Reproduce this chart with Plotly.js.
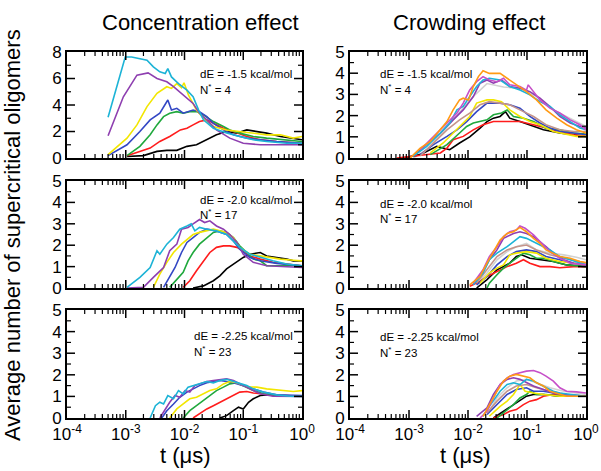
<!DOCTYPE html>
<html>
<head>
<meta charset="utf-8">
<script src="https://cdn.plot.ly/plotly-3.0.1.min.js"></script>
<style>html,body{margin:0;padding:0;background:#fff}#chart{width:601px;height:471px}</style>
</head>
<body>
<div id="chart"></div>
<script>
// ---------- DATA: [t (µs), average number of supercritical oligomers] ----------
// Concentration effect, dE = -1.5 kcal/mol
const A_black  = [[1.05e-3,0.12],[2.0e-3,0.18],[3.4e-3,0.5],[5.0e-3,0.58],[7.4e-3,0.58],[1.1e-2,0.88],[1.6e-2,1.0],[2.4e-2,1.38],[3.5e-2,1.75],[5.2e-2,2.0],[7.8e-2,1.88],[0.115,2.12],[0.17,2.0],[0.25,1.88],[0.43,1.62],[0.71,1.5],[1,1.38]];
const A_red    = [[1.05e-3,0.18],[1.74e-3,0.5],[2.6e-3,0.75],[3.8e-3,1.25],[5.6e-3,1.62],[8.5e-3,2.12],[1.1e-2,2.25],[1.4e-2,2.5],[1.8e-2,2.75],[2.4e-2,2.88],[3.1e-2,2.62],[4.6e-2,2.25],[6.8e-2,2.0],[0.115,1.62],[0.195,1.38],[0.37,1.25],[1,1.12]];
const A_green  = [[1.05e-3,0.18],[1.74e-3,0.88],[2.6e-3,1.75],[3.4e-3,2.5],[4.4e-3,3.12],[5.6e-3,3.38],[7.4e-3,3.5],[9.5e-3,3.38],[1.23e-2,3.5],[1.6e-2,3.5],[2.1e-2,3.25],[3.1e-2,2.75],[4.6e-2,2.38],[5.9e-2,2.12],[8.7e-2,1.88],[0.148,1.62],[0.25,1.5],[0.55,1.38],[1,1.25]];
const A_blue   = [[5.0e-4,0.18],[1.05e-3,1.0],[1.74e-3,2.0],[2.6e-3,2.88],[3.8e-3,3.38],[4.7e-3,4.12],[5.2e-3,4.38],[6.0e-3,3.62],[7.4e-3,3.75],[9.5e-3,3.38],[1.4e-2,3.62],[1.8e-2,3.5],[2.4e-2,3.12],[3.1e-2,2.62],[4.6e-2,2.12],[6.8e-2,1.75],[0.115,1.5],[0.195,1.38],[0.37,1.25],[1,1.12]];
const A_yellow = [[5.0e-4,0.25],[1.05e-3,1.5],[1.55e-3,2.5],[2.3e-3,3.88],[3.4e-3,4.88],[5.0e-3,5.38],[6.0e-3,5.25],[7.4e-3,5.62],[8.9e-3,5.3],[9.8e-3,5.68],[1.17e-2,4.75],[1.3e-2,4.38],[1.6e-2,3.62],[2.1e-2,3.0],[3.1e-2,2.38],[5.2e-2,2.12],[8.7e-2,2.0],[0.148,1.88],[0.25,1.75],[0.43,1.75],[0.71,1.5],[1,1.62]];
const A_violet = [[5.0e-4,1.68],[9.1e-4,4.62],[1.55e-3,6.25],[2.4e-3,6.42],[3.4e-3,6.0],[5.0e-3,5.75],[6.5e-3,5.38],[9.5e-3,4.75],[1.4e-2,4.12],[1.8e-2,3.38],[2.4e-2,2.88],[3.5e-2,2.12],[5.9e-2,1.5],[0.1,1.12],[0.195,1.0],[1,1.0]];
const A_cyan   = [[5.0e-4,3.08],[7.1e-4,5.38],[9.8e-4,7.62],[1.26e-3,7.62],[1.74e-3,7.5],[2.3e-3,7.38],[2.95e-3,6.88],[3.8e-3,6.5],[4.7e-3,6.38],[5.2e-3,6.75],[6.0e-3,6.12],[7.9e-3,5.62],[1.1e-2,5.12],[1.4e-2,4.62],[1.74e-2,3.62],[2.1e-2,2.88],[3.1e-2,2.25],[5.2e-2,1.88],[8.7e-2,1.62],[0.148,1.38],[0.25,1.25],[0.55,1.12],[1,1.12]];

// Crowding effect, dE = -1.5 kcal/mol
const B_black   = [[7.9e-4,0],[1.55e-3,0.16],[2.95e-3,0.55],[4.9e-3,0.39],[7.2e-3,0.71],[1.07e-2,1.0],[1.6e-2,1.41],[2.1e-2,1.72],[2.7e-2,1.88],[3.5e-2,1.96],[4.3e-2,2.19],[5.1e-2,1.88],[7.6e-2,1.72],[0.112,1.57],[0.19,1.33],[0.36,1.18],[0.62,1.1],[1,1.02]];
const B_red     = [[6.2e-4,0],[1.17e-3,0.08],[2.3e-3,0.16],[3.4e-3,0.24],[4.4e-3,0.47],[5.6e-3,0.86],[8.3e-3,1.02],[1.23e-2,1.33],[1.8e-2,1.57],[2.7e-2,1.72],[4.6e-2,1.72],[7.6e-2,1.72],[0.129,1.57],[0.21,1.41],[0.36,1.25],[0.62,1.1],[1,1.02]];
const B_green   = [[2.3e-3,0.16],[4.4e-3,0.63],[7.2e-3,1.18],[9.5e-3,1.49],[1.23e-2,1.65],[1.6e-2,1.72],[2.1e-2,1.8],[2.7e-2,2.04],[3.7e-2,2.12],[4.6e-2,2.27],[5.9e-2,1.96],[8.7e-2,1.88],[0.129,1.72],[0.21,1.41],[0.36,1.33],[0.62,1.18],[1,1.13]];
const B_blue    = [[1.55e-3,0.16],[2.6e-3,0.63],[4.4e-3,1.02],[6.5e-3,1.33],[9.5e-3,1.72],[1.4e-2,2.19],[2.1e-2,2.59],[3.5e-2,2.59],[5.1e-2,2.51],[7.6e-2,2.35],[0.112,1.96],[0.166,1.65],[0.245,1.41],[0.36,1.25],[0.62,1.18],[1,1.1]];
const B_yellow  = [[2.3e-3,0.24],[3.8e-3,0.71],[5.6e-3,1.18],[8.3e-3,1.65],[1.07e-2,1.96],[1.4e-2,2.59],[2.1e-2,2.74],[2.7e-2,2.74],[3.7e-2,2.66],[5.1e-2,2.27],[7.6e-2,1.96],[0.112,1.72],[0.166,1.57],[0.28,1.25],[0.47,1.1],[0.69,1.02],[1,1.02]];
const B_brown   = [[1.55e-3,0.1],[2.3e-3,0.55],[4.4e-3,1.33],[7.2e-3,1.8],[1.07e-2,2.12],[1.6e-2,2.51],[2.3e-2,2.66],[3.5e-2,2.59],[5.1e-2,2.51],[7.6e-2,2.27],[0.129,1.96],[0.21,1.57],[0.36,1.33],[0.62,1.25],[1,1.25]];
const B_grey    = [[1.17e-3,0],[2.0e-3,0.39],[5.6e-3,1.8],[1.23e-2,2.9],[2.1e-2,3.51],[4.0e-2,3.35],[7.6e-2,3.29],[0.145,2.9],[0.28,2.27],[0.54,1.88],[1,1.49]];
const B_violet  = [[1.17e-3,0.1],[2.0e-3,0.63],[3.4e-3,1.18],[5.6e-3,1.8],[8.3e-3,2.27],[1.23e-2,2.9],[1.6e-2,3.53],[2.1e-2,3.68],[2.7e-2,3.53],[3.7e-2,3.68],[5.1e-2,3.37],[7.6e-2,3.29],[0.112,3.13],[0.166,2.82],[0.245,2.43],[0.36,1.96],[0.54,1.65],[0.79,1.49],[1,1.41]];
const B_cyan    = [[1.17e-3,0.08],[2.0e-3,0.55],[3.4e-3,1.18],[4.9e-3,1.65],[6.5e-3,2.27],[8.3e-3,2.43],[1.07e-2,2.9],[1.4e-2,3.37],[1.8e-2,3.68],[2.3e-2,3.76],[3.5e-2,3.68],[5.1e-2,3.37],[7.6e-2,3.21],[0.112,2.98],[0.166,2.66],[0.245,2.43],[0.36,2.04],[0.54,1.72],[0.79,1.41],[1,1.33]];
const B_magenta = [[1.55e-3,0.39],[2.6e-3,1.02],[4.4e-3,1.65],[6.5e-3,2.12],[8.3e-3,2.59],[1.07e-2,3.21],[1.4e-2,3.6],[1.8e-2,3.84],[2.3e-2,3.68],[3.1e-2,3.6],[4.0e-2,3.76],[5.1e-2,3.45],[7.6e-2,3.37],[0.098,3.2],[0.105,3.45],[0.166,2.74],[0.245,2.35],[0.36,2.12],[0.54,1.8],[0.79,1.57],[1,1.33]];
const B_orange  = [[1.04e-3,0],[1.55e-3,0.47],[2.3e-3,0.78],[3.4e-3,1.33],[4.4e-3,1.72],[5.6e-3,2.27],[7.2e-3,2.74],[8.3e-3,2.82],[1.02e-2,2.74],[1.23e-2,3.37],[1.5e-2,3.84],[1.8e-2,4.12],[2.3e-2,3.99],[3.5e-2,3.99],[4.6e-2,3.76],[6.6e-2,3.45],[9.8e-2,3.13],[0.145,2.74],[0.21,2.27],[0.32,1.88],[0.47,1.57],[0.69,1.33],[1,1.18]];

// Concentration effect, dE = -2.0 kcal/mol
const C_black  = [[1.4e-2,0],[2.1e-2,0.1],[3.1e-2,0.34],[4.0e-2,0.57],[5.2e-2,0.89],[7.8e-2,1.2],[0.1,1.43],[0.13,1.58],[0.195,1.66],[0.25,1.5],[0.37,1.43],[0.55,1.35],[0.71,1.27],[1,1.27]];
const C_red    = [[9.5e-3,0.03],[1.23e-2,0.34],[1.6e-2,0.81],[2.1e-2,1.27],[2.7e-2,1.66],[3.5e-2,1.9],[4.6e-2,1.97],[5.9e-2,1.97],[7.8e-2,1.9],[0.1,1.74],[0.13,1.5],[0.195,1.35],[0.32,1.2],[0.55,1.12],[1,1.04]];
const C_green  = [[5.6e-3,0.03],[7.4e-3,0.42],[9.5e-3,0.73],[1.15e-2,1.27],[1.4e-2,1.66],[1.8e-2,2.05],[2.4e-2,2.36],[3.1e-2,2.6],[4.0e-2,2.67],[5.2e-2,2.6],[6.8e-2,2.36],[8.7e-2,1.97],[0.115,1.66],[0.148,1.35],[0.195,1.27],[0.25,1.04],[0.55,1.04],[1,1.04]];
const C_blue   = [[4.4e-3,0.03],[5.6e-3,0.5],[6.9e-3,0.96],[8.9e-3,1.66],[1.1e-2,2.13],[1.4e-2,2.36],[1.8e-2,2.6],[2.4e-2,2.75],[3.5e-2,2.67],[5.2e-2,2.5],[6.8e-2,2.2],[8.7e-2,1.82],[0.13,1.43],[0.195,1.27],[0.37,1.15],[1,1.04]];
const C_yellow = [[2.95e-3,0.03],[3.8e-3,0.65],[5.0e-3,1.2],[6.5e-3,1.66],[8.9e-3,2.05],[1.1e-2,2.28],[1.4e-2,2.5],[1.8e-2,2.6],[2.4e-2,2.67],[3.1e-2,2.75],[4.0e-2,2.67],[5.2e-2,2.6],[6.8e-2,2.36],[8.7e-2,1.9],[0.13,1.58],[0.195,1.5],[0.29,1.43],[0.43,1.35],[0.71,1.3],[1,1.27]];
const C_violet = [[1.05e-3,0],[2.0e-3,0.03],[2.95e-3,0.5],[4.4e-3,0.96],[5.6e-3,1.74],[7.4e-3,2.05],[8.9e-3,2.75],[1.15e-2,2.83],[1.4e-2,3.0],[1.8e-2,3.2],[2.2e-2,3.06],[2.7e-2,3.14],[3.5e-2,2.9],[4.6e-2,2.75],[5.9e-2,2.5],[7.8e-2,2.13],[0.1,1.58],[0.148,1.2],[0.25,1.04],[1,0.96]];
const C_cyan   = [[1.05e-3,0.03],[1.74e-3,0.5],[2.6e-3,0.96],[3.4e-3,1.74],[3.8e-3,1.58],[5.0e-3,2.05],[6.5e-3,2.36],[8.3e-3,2.75],[1.1e-2,2.9],[1.3e-2,3.0],[1.5e-2,2.67],[1.8e-2,2.83],[2.4e-2,2.75],[3.5e-2,2.67],[5.2e-2,2.5],[6.8e-2,2.2],[8.7e-2,1.9],[0.13,1.58],[0.195,1.43],[0.32,1.27],[0.55,1.12],[1,1.04]];

// Crowding effect, dE = -2.0 kcal/mol
const D_black   = [[1.4e-2,0],[2.1e-2,0.39],[3.1e-2,0.85],[4.0e-2,1.0],[5.1e-2,1.16],[6.6e-2,1.47],[8.1e-2,1.55],[0.112,1.39],[0.166,1.32],[0.28,1.24],[0.47,1.08],[1,1.0]];
const D_red     = [[1.07e-2,0.08],[1.6e-2,0.31],[2.1e-2,0.54],[3.1e-2,0.77],[4.6e-2,1.0],[6.6e-2,1.16],[8.7e-2,1.32],[0.112,1.16],[0.166,1.0],[0.245,1.0],[0.36,0.95],[0.62,1.0],[1,1.0]];
const D_green   = [[2.1e-2,0],[2.3e-2,0.23],[3.1e-2,0.62],[4.0e-2,0.93],[5.1e-2,1.16],[6.6e-2,1.39],[8.7e-2,1.63],[0.112,1.55],[0.145,1.39],[0.19,1.39],[0.28,1.24],[0.47,1.08],[1,1.0]];
const D_blue    = [[1.4e-2,0.15],[2.1e-2,0.54],[3.1e-2,1.08],[4.6e-2,1.47],[6.6e-2,1.7],[9.8e-2,1.78],[0.145,1.7],[0.21,1.47],[0.36,1.32],[0.62,1.16],[1,1.08]];
const D_yellow  = [[1.6e-2,0.23],[2.3e-2,0.7],[3.1e-2,0.93],[4.0e-2,1.08],[5.1e-2,1.55],[6.6e-2,1.63],[9.8e-2,1.7],[0.145,1.63],[0.21,1.39],[0.36,1.24],[0.62,1.16],[1,1.08]];
const D_brown   = [[1.4e-2,0.23],[2.1e-2,0.85],[3.1e-2,1.47],[4.6e-2,1.78],[6.6e-2,1.93],[9.8e-2,2.01],[0.145,1.78],[0.245,1.55],[0.42,1.39],[0.69,1.24],[1,1.16]];
const D_grey    = [[1.4e-2,0.15],[2.1e-2,0.7],[3.1e-2,1.32],[4.6e-2,1.7],[6.6e-2,1.93],[9.8e-2,2.09],[0.145,1.78],[0.245,1.63],[0.42,1.55],[0.69,1.44],[1,1.32]];
const D_violet  = [[1.23e-2,0.15],[1.8e-2,0.77],[2.3e-2,1.32],[3.1e-2,1.78],[4.0e-2,2.32],[5.9e-2,2.55],[7.6e-2,2.63],[9.8e-2,2.55],[0.129,2.4],[0.166,2.17],[0.21,1.93],[0.28,1.63],[0.42,1.32],[0.62,1.16],[1,1.08]];
const D_cyan    = [[1.23e-2,0.15],[1.8e-2,0.7],[2.3e-2,1.32],[3.1e-2,1.63],[4.6e-2,1.93],[5.9e-2,2.17],[7.6e-2,2.4],[9.8e-2,2.32],[0.129,2.17],[0.166,2.01],[0.245,1.78],[0.36,1.47],[0.54,1.32],[0.79,1.16],[1,1.08]];
const D_magenta = [[1.23e-2,0.23],[1.8e-2,0.85],[2.3e-2,1.47],[3.1e-2,1.93],[4.0e-2,2.4],[5.1e-2,2.63],[6.6e-2,2.71],[7.6e-2,2.9],[9.3e-2,2.79],[0.129,2.48],[0.166,2.17],[0.245,1.7],[0.36,1.39],[0.54,1.16],[1,1.08]];
const D_orange  = [[1.07e-2,0.15],[1.6e-2,0.54],[2.1e-2,1.16],[2.7e-2,1.7],[3.5e-2,2.24],[4.6e-2,2.55],[5.9e-2,2.63],[7.6e-2,2.83],[9.8e-2,2.63],[0.129,2.32],[0.166,2.09],[0.21,1.78],[0.28,1.63],[0.36,1.47],[0.54,1.39],[0.79,1.24],[1,1.19]];

// Concentration effect, dE = -2.25 kcal/mol
const E_black  = [[4.0e-2,0],[5.2e-2,0.11],[6.8e-2,0.34],[8.3e-2,0.5],[0.1,0.42],[0.123,0.73],[0.148,0.89],[0.195,1.04],[0.25,1.07],[0.43,1.04],[1,1.01]];
const E_red    = [[1.4e-2,0],[1.8e-2,0.19],[2.4e-2,0.42],[3.1e-2,0.57],[4.0e-2,0.73],[5.2e-2,0.89],[6.8e-2,1.04],[8.7e-2,1.2],[0.115,1.23],[0.148,1.16],[0.195,1.12],[0.32,1.04],[1,1.01]];
const E_green  = [[9.5e-3,0],[1.23e-2,0.34],[1.6e-2,0.57],[2.1e-2,0.81],[2.7e-2,1.04],[3.5e-2,1.27],[4.6e-2,1.43],[5.9e-2,1.58],[7.8e-2,1.63],[0.1,1.5],[0.148,1.27],[0.22,1.12],[0.37,1.04],[1,1.01]];
const E_yellow = [[5.6e-3,0],[7.4e-3,0.42],[9.5e-3,0.65],[1.23e-2,0.89],[1.6e-2,0.96],[2.1e-2,1.12],[2.7e-2,1.27],[3.5e-2,1.35],[4.6e-2,1.58],[5.9e-2,1.69],[7.8e-2,1.63],[0.115,1.45],[0.17,1.43],[0.25,1.35],[0.43,1.27],[0.71,1.23],[1,1.27]];
const E_blue   = [[4.1e-3,0],[5.0e-3,0.34],[6.5e-3,0.65],[8.3e-3,0.96],[1.1e-2,1.2],[1.4e-2,1.35],[1.8e-2,1.5],[2.4e-2,1.63],[3.1e-2,1.69],[4.0e-2,1.74],[5.2e-2,1.69],[6.8e-2,1.63],[0.1,1.5],[0.148,1.35],[0.22,1.2],[0.37,1.07],[1,1.04]];
const E_violet = [[3.8e-3,0],[4.7e-3,0.42],[5.6e-3,0.73],[6.9e-3,1.04],[8.3e-3,0.96],[1.02e-2,1.27],[1.23e-2,1.2],[1.5e-2,1.5],[1.8e-2,1.58],[2.4e-2,1.69],[3.1e-2,1.74],[4.0e-2,1.79],[5.2e-2,1.82],[6.8e-2,1.74],[8.7e-2,1.58],[0.13,1.35],[0.195,1.12],[0.32,1.01],[1,1.0]];
const E_cyan   = [[2.6e-3,0],[3.2e-3,0.57],[3.8e-3,0.73],[4.4e-3,0.65],[5.2e-3,1.04],[6.5e-3,0.89],[7.9e-3,1.27],[9.5e-3,1.12],[1.15e-2,1.43],[1.4e-2,1.5],[1.8e-2,1.58],[2.4e-2,1.69],[3.1e-2,1.63],[4.0e-2,1.74],[5.2e-2,1.79],[6.8e-2,1.69],[8.7e-2,1.58],[0.115,1.5],[0.148,1.35],[0.22,1.2],[0.37,1.07],[0.63,1.01],[1,1.0]];

// Crowding effect, dE = -2.25 kcal/mol
const F_black   = [[2.7e-2,0],[4.0e-2,0.31],[5.9e-2,0.62],[7.6e-2,0.78],[9.8e-2,1.01],[0.129,1.09],[0.19,1.09],[0.36,1.01],[1,1.01]];
const F_red     = [[2.7e-2,0],[4.0e-2,0.16],[5.1e-2,0.31],[6.6e-2,0.39],[8.7e-2,0.62],[0.112,0.78],[0.145,0.85],[0.19,1.01],[0.28,1.09],[0.47,1.01],[1,1.01]];
const F_green   = [[3.1e-2,0],[4.6e-2,0.39],[5.9e-2,0.62],[7.6e-2,0.93],[9.8e-2,1.09],[0.112,1.24],[0.145,1.09],[0.21,1.09],[0.36,1.01],[1,1.01]];
const F_blue    = [[2.1e-2,0.16],[3.1e-2,0.62],[4.6e-2,1.09],[6.6e-2,1.32],[9.8e-2,1.4],[0.129,1.24],[0.19,1.24],[0.28,1.16],[0.47,1.01],[1,1.01]];
const F_yellow  = [[2.3e-2,0.08],[3.5e-2,0.54],[4.6e-2,0.78],[5.9e-2,1.09],[7.6e-2,1.55],[9.3e-2,1.24],[0.129,1.16],[0.19,1.09],[0.36,1.01],[1,1.01]];
const F_brown   = [[2.1e-2,0.23],[3.1e-2,0.78],[4.6e-2,1.24],[6.6e-2,1.48],[9.8e-2,1.55],[0.145,1.4],[0.245,1.24],[0.47,1.09],[1,1.01]];
const F_grey    = [[2.1e-2,0.16],[3.1e-2,0.93],[4.6e-2,1.4],[6.6e-2,1.71],[9.8e-2,1.79],[0.145,1.63],[0.245,1.4],[0.42,1.24],[0.69,1.16],[1,1.09]];
const F_violet  = [[1.4e-2,0.08],[2.1e-2,0.47],[2.7e-2,1.09],[3.5e-2,1.55],[4.6e-2,1.79],[5.9e-2,1.86],[7.6e-2,1.79],[9.8e-2,1.63],[0.129,1.48],[0.19,1.32],[0.28,1.16],[0.47,1.09],[1,1.01]];
const F_cyan    = [[1.8e-2,0.08],[2.3e-2,0.54],[3.5e-2,1.24],[4.6e-2,1.55],[5.9e-2,1.63],[7.6e-2,1.55],[9.8e-2,1.79],[0.129,1.71],[0.166,1.55],[0.21,1.4],[0.28,1.24],[0.36,1.16],[0.54,1.09],[1,1.01]];
const F_magenta = [[1.6e-2,0],[2.1e-2,0.31],[2.7e-2,0.93],[3.5e-2,1.55],[4.6e-2,1.86],[5.9e-2,2.02],[7.6e-2,2.1],[9.8e-2,2.17],[0.129,2.2],[0.166,2.1],[0.21,1.94],[0.28,1.71],[0.36,1.4],[0.47,1.24],[0.69,1.21],[1,1.16]];
const F_orange  = [[1.8e-2,0.08],[2.3e-2,0.62],[3.1e-2,1.24],[4.0e-2,1.71],[5.1e-2,1.94],[6.6e-2,2.02],[8.7e-2,1.94],[0.112,1.86],[0.145,1.63],[0.19,1.48],[0.245,1.24],[0.32,1.16],[0.47,1.01],[1,1.01]];

// Tick labels and text
const xTickVals   = [1e-4, 1e-3, 1e-2, 1e-1, 1];
const xTickText   = ['10<sup>-4</sup>', '10<sup>-3</sup>', '10<sup>-2</sup>', '10<sup>-1</sup>', '10<sup>0</sup>'];
const columnTitles = ['Concentration effect', 'Crowding effect'];
const rowDE  = ['-1.5', '-2.0', '-2.25'];
const rowN   = ['4', '17', '23'];
const xTitle = 't (\u03bcs)';
const yTitle = 'Average number of supercritical oligomers';

// ---------- STYLE ----------
const COL = {black:'#000000', red:'#ff1c1c', green:'#1fa83c', blue:'#3347c4', yellow:'#f2e600',
             brown:'#c4948a', grey:'#d2d2d2', violet:'#8e3fb0', cyan:'#1cb3d6', magenta:'#c64fc8', orange:'#ff9a14'};
const FONT = 'Liberation Sans, Arial, Helvetica, sans-serif';
const W = 601, H = 471;

const xDomL = [0.1115, 0.5025], xDomR = [0.5824, 0.975];
const yDom = [[0.6645, 0.8896], [0.3885, 0.6157], [0.1125, 0.3418]];

const panels = [
  {xa:'x',  ya:'y',  xd:xDomL, yd:yDom[0], ymax:8, ystep:2, s:[[A_black,'black'],[A_red,'red'],[A_green,'green'],[A_blue,'blue'],[A_yellow,'yellow'],[A_violet,'violet'],[A_cyan,'cyan']]},
  {xa:'x2', ya:'y2', xd:xDomR, yd:yDom[0], ymax:5, ystep:1, s:[[B_grey,'grey'],[B_black,'black'],[B_red,'red'],[B_green,'green'],[B_blue,'blue'],[B_yellow,'yellow'],[B_brown,'brown'],[B_violet,'violet'],[B_cyan,'cyan'],[B_magenta,'magenta'],[B_orange,'orange']]},
  {xa:'x3', ya:'y3', xd:xDomL, yd:yDom[1], ymax:5, ystep:1, s:[[C_black,'black'],[C_red,'red'],[C_green,'green'],[C_blue,'blue'],[C_yellow,'yellow'],[C_violet,'violet'],[C_cyan,'cyan']]},
  {xa:'x4', ya:'y4', xd:xDomR, yd:yDom[1], ymax:5, ystep:1, s:[[D_grey,'grey'],[D_black,'black'],[D_red,'red'],[D_green,'green'],[D_blue,'blue'],[D_yellow,'yellow'],[D_brown,'brown'],[D_violet,'violet'],[D_cyan,'cyan'],[D_magenta,'magenta'],[D_orange,'orange']]},
  {xa:'x5', ya:'y5', xd:xDomL, yd:yDom[2], ymax:5, ystep:1, s:[[E_black,'black'],[E_red,'red'],[E_green,'green'],[E_blue,'blue'],[E_yellow,'yellow'],[E_violet,'violet'],[E_cyan,'cyan']]},
  {xa:'x6', ya:'y6', xd:xDomR, yd:yDom[2], ymax:5, ystep:1, s:[[F_grey,'grey'],[F_black,'black'],[F_red,'red'],[F_green,'green'],[F_blue,'blue'],[F_yellow,'yellow'],[F_brown,'brown'],[F_violet,'violet'],[F_cyan,'cyan'],[F_magenta,'magenta'],[F_orange,'orange']]}
];

const traces = [];
panels.forEach(p => {
  p.s.forEach(([pts, c]) => {
    traces.push({
      type:'scatter', mode:'lines', xaxis:p.xa, yaxis:p.ya,
      x: pts.map(d => d[0]), y: pts.map(d => d[1]),
      line:{color:COL[c], width:1.6}, hoverinfo:'skip'
    });
  });
});

// minor tick positions on the log axis (2..9 in each decade)
const minorX = [];
for (let e = -4; e < 0; e++) for (let k = 2; k <= 9; k++) minorX.push(k * Math.pow(10, e));

// Inward tick marks on all four sides, drawn as line segments on each subplot's own axes
panels.forEach(p => {
  const hPx = (p.yd[1] - p.yd[0]) * H, wPx = (p.xd[1] - p.xd[0]) * W;
  const unitPerPx = p.ymax / hPx, decPerPx = 4 / wPx;
  const groups = [{len:8, w:1.5, xs:xTickVals.slice(1, -1), major:true}, {len:4, w:1.2, xs:minorX, major:false}];
  groups.forEach(g => {
    const tx = [], ty = [];
    g.xs.forEach(v => {
      tx.push(v, v, null, v, v, null);
      ty.push(0, g.len * unitPerPx, null, p.ymax, p.ymax - g.len * unitPerPx, null);
    });
    const half = p.ystep / 2;
    for (let v = half; v < p.ymax - 1e-9; v += half) {
      const isMajor = Math.abs(v / p.ystep - Math.round(v / p.ystep)) < 1e-9;
      if (isMajor !== g.major) continue;
      tx.push(1e-4, 1e-4 * Math.pow(10, g.len * decPerPx), null, 1, Math.pow(10, -g.len * decPerPx), null);
      ty.push(v, v, null, v, v, null);
    }
    traces.push({type:'scatter', mode:'lines', xaxis:p.xa, yaxis:p.ya, x:tx, y:ty,
      line:{color:'#000', width:g.w}, hoverinfo:'skip', connectgaps:false});
  });
});

function xAxis(dom, showLabels, anchor) {
  return {
    type:'log', range:[-4, 0], domain:dom, anchor:anchor,
    showline:true, linewidth:2, linecolor:'#000', mirror:true,
    ticks:'', tickmode:'array', tickvals:xTickVals, ticktext:xTickText,
    showticklabels:showLabels, tickfont:{family:FONT, size:17, color:'#000'},
    showgrid:false, zeroline:false
  };
}
function yAxis(dom, max, step, anchor) {
  return {
    range:[0, max], domain:dom, anchor:anchor,
    showline:true, linewidth:2, linecolor:'#000', mirror:true,
    ticks:'', tick0:0, dtick:step, tickfont:{family:FONT, size:17, color:'#000'},
    showgrid:false, zeroline:false
  };
}

const annotations = [];
const ann = (x, y, text, size, opts) => annotations.push(Object.assign({
  xref:'paper', yref:'paper', x:x, y:y, text:text, showarrow:false,
  font:{family:FONT, size:size, color:'#000'}
}, opts || {}));

ann(200/W, 1 - 23/H, columnTitles[0], 22, {xanchor:'center', yanchor:'middle'});
ann(469/W, 1 - 23/H, columnTitles[1], 22, {xanchor:'center', yanchor:'middle'});
ann(185/W, 1 - 455/H, xTitle, 22, {xanchor:'center', yanchor:'middle'});
ann(465/W, 1 - 455/H, xTitle, 22, {xanchor:'center', yanchor:'middle'});
ann(12/W, 1 - 235/H, yTitle, 22, {xanchor:'center', yanchor:'middle', textangle:-90});

const labelPos = [ // [xLeft px, dE centre px, N centre px] for each panel
  [198, 74, 89], [378, 74, 89],
  [198, 200, 214], [378, 204, 218],
  [192, 336, 351], [378, 337, 352]
];
labelPos.forEach((lp, i) => {
  const row = Math.floor(i / 2);
  ann(lp[0]/W, 1 - lp[1]/H, 'dE = ' + rowDE[row] + ' kcal/mol', 11.5, {xanchor:'left', yanchor:'middle'});
  ann(lp[0]/W, 1 - lp[2]/H, 'N<sup>*</sup> = ' + rowN[row], 11.5, {xanchor:'left', yanchor:'middle'});
});

const layout = {
  width:W, height:H, margin:{l:0, r:0, t:0, b:0},
  paper_bgcolor:'#fff', plot_bgcolor:'#fff', showlegend:false,
  font:{family:FONT, color:'#000'},
  xaxis:  xAxis(xDomL, false, 'y'),
  xaxis2: xAxis(xDomR, false, 'y2'),
  xaxis3: xAxis(xDomL, false, 'y3'),
  xaxis4: xAxis(xDomR, false, 'y4'),
  xaxis5: xAxis(xDomL, true,  'y5'),
  xaxis6: xAxis(xDomR, true,  'y6'),
  yaxis:  yAxis(yDom[0], 8, 2, 'x'),
  yaxis2: yAxis(yDom[0], 5, 1, 'x2'),
  yaxis3: yAxis(yDom[1], 5, 1, 'x3'),
  yaxis4: yAxis(yDom[1], 5, 1, 'x4'),
  yaxis5: yAxis(yDom[2], 5, 1, 'x5'),
  yaxis6: yAxis(yDom[2], 5, 1, 'x6'),
  annotations: annotations
};

Plotly.newPlot('chart', traces, layout, {staticPlot:true, displayModeBar:false});
</script>
</body>
</html>
